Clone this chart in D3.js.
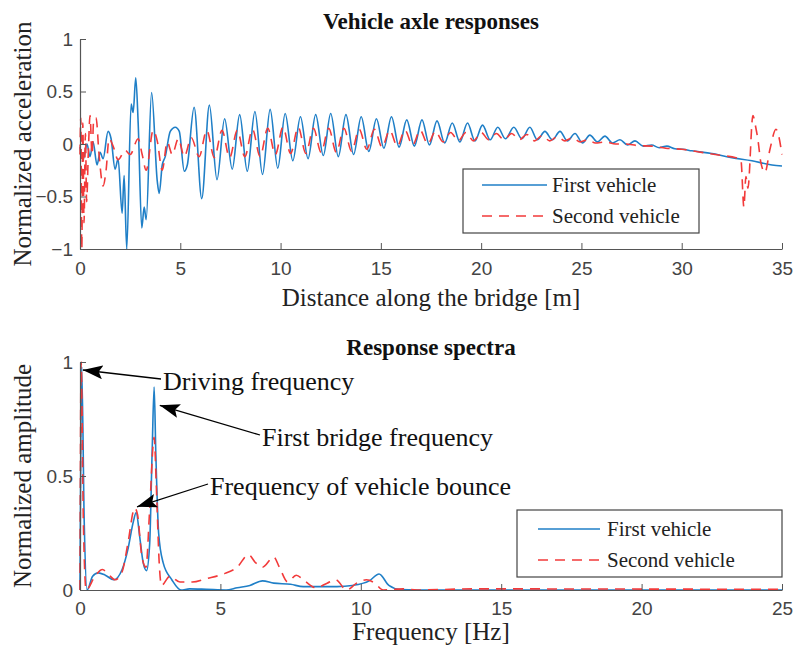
<!DOCTYPE html>
<html>
<head>
<meta charset="utf-8">
<script src="https://cdn.jsdelivr.net/npm/d3@7/dist/d3.min.js"></script>
<style>
  html, body { margin: 0; padding: 0; background: #fff; }
  svg { display: block; }
</style>
</head>
<body>
<script>
// ---- Vehicle axle responses: normalized acceleration vs distance (m) ----
const firstVehicleAccel = [
  [0, -0.03], [0.15, -0.15], [0.35, 0.0], [0.5, -0.12], [0.65, 0.02], [0.85, -0.2],
  [1.0, -0.08], [1.15, -0.14], [1.4, 0.12], [1.55, 0.05], [1.75, -0.24], [1.9, -0.14],
  [2.1, -0.66], [2.2, -0.3], [2.33, -1.0], [2.55, 0.38], [2.65, 0.3], [2.78, 0.63],
  [2.9, 0.2], [3.08, -0.8], [3.2, -0.6], [3.3, -0.72], [3.57, 0.49], [3.85, -0.35],
  [3.95, -0.47], [4.1, -0.2], [4.25, -0.12], [4.5, 0.12], [4.75, 0.16], [4.95, 0.12],
  [5.2, -0.26], [5.35, -0.2], [5.69, 0.35], [6.07, -0.52], [6.45, 0.37], [6.83, -0.34],
  [7.21, 0.24], [7.59, -0.24], [7.96, 0.28], [8.34, -0.26], [8.72, 0.31], [9.10, -0.29],
  [9.48, 0.33], [9.86, -0.23], [10.23, 0.29], [10.61, -0.16], [10.99, 0.26], [11.37, -0.14],
  [11.75, 0.28], [12.13, -0.11], [12.50, 0.29], [12.88, -0.12], [13.26, 0.28], [13.64, -0.10],
  [14.02, 0.26], [14.40, -0.07], [14.78, 0.24], [15.15, -0.04], [15.53, 0.26], [15.91, -0.03],
  [16.29, 0.23], [16.67, -0.02], [17.05, 0.23], [17.42, -0.01], [17.80, 0.22], [18.18, 0.01],
  [18.56, 0.20], [18.94, 0.02], [19.32, 0.20], [19.69, 0.03], [20.07, 0.18], [20.45, 0.04],
  [20.83, 0.16], [21.21, 0.05], [21.63, 0.16], [22.03, 0.05], [22.43, 0.16], [22.80, 0.04],
  [23.18, 0.12], [23.55, 0.04], [23.93, 0.12], [24.30, 0.03], [24.68, 0.10], [25.05, 0.01],
  [25.42, 0.085], [25.80, 0.02], [26.17, 0.075], [26.55, 0.01], [26.92, 0.04], [27.30, -0.01],
  [27.67, 0.03], [28.08, -0.02], [28.50, -0.01], [28.88, -0.035], [29.26, -0.02], [29.66, -0.045],
  [30.06, -0.05], [30.5, -0.065], [31.5, -0.09], [32.5, -0.13], [33.5, -0.16], [34.5, -0.2], [35, -0.21]
];

const secondVehicleAccel = [
  [0, -0.1], [0.04, 0.25], [0.09, -1.0], [0.14, 0.2], [0.2, -0.75], [0.27, 0.1], [0.33, -0.55],
  [0.42, -0.05], [0.5, 0.27], [0.6, -0.1], [0.68, 0.22], [0.8, 0.25], [0.95, -0.1],
  [1.15, -0.4], [1.3, -0.25], [1.45, 0.05], [1.65, -0.02], [1.9, -0.15], [2.25, -0.06],
  [2.5, -0.1], [2.9, 0.05], [3.1, -0.1], [3.3, -0.25], [3.65, 0.13], [3.85, 0.03],
  [4.1, -0.25], [4.35, 0.02], [4.6, -0.1], [4.9, 0.05], [5.2, -0.12], [5.55, 0.06],
  [5.94, -0.12], [6.32, 0.13], [6.70, -0.13], [7.08, 0.13], [7.46, -0.13], [7.84, 0.13],
  [8.22, -0.12], [8.60, 0.14], [8.98, -0.12], [9.36, 0.15], [9.74, -0.1], [10.12, 0.16],
  [10.50, -0.09], [10.88, 0.16], [11.26, -0.09], [11.64, 0.15], [12.02, -0.08], [12.40, 0.15],
  [12.78, -0.08], [13.16, 0.15], [13.54, -0.07], [13.92, 0.14], [14.30, -0.05], [14.68, 0.14],
  [15.06, -0.03], [15.44, 0.13], [15.82, -0.02], [16.20, 0.13], [16.58, -0.01], [16.96, 0.13],
  [17.34, 0.0], [17.72, 0.12], [18.10, 0.02], [18.48, 0.11], [18.86, 0.03], [19.24, 0.11],
  [19.62, 0.03], [20.00, 0.11], [20.38, 0.04], [20.76, 0.10], [21.14, 0.04], [21.52, 0.10],
  [21.90, 0.04], [22.28, 0.09], [22.66, 0.03], [23.04, 0.08], [23.42, 0.03], [23.80, 0.07],
  [24.18, 0.03], [24.56, 0.06], [24.94, 0.02], [25.32, 0.04], [25.70, 0.01], [26.2, 0.02],
  [26.7, 0.0], [27.2, 0.0], [27.8, -0.015], [28.5, -0.02], [29.2, -0.04], [30, -0.05],
  [31, -0.08], [32, -0.11], [32.7, -0.13], [32.95, -0.15], [33.1, -0.6], [33.2, -0.31],
  [33.3, -0.42], [33.55, 0.27], [33.7, 0.15], [33.8, 0.04], [33.95, -0.18], [34.15, -0.27],
  [34.4, -0.05], [34.7, 0.14], [35, -0.1]
];

// ---- Response spectra: normalized amplitude vs frequency (Hz) ----
const firstVehicleSpectrum = [
  [0, 0.0], [0.06, 0.98], [0.15, 0.3], [0.25, 0.0], [0.45, 0.06], [0.65, 0.075],
  [0.9, 0.065], [1.2, 0.045], [1.5, 0.09], [1.7, 0.175], [1.9, 0.3], [2.0, 0.34],
  [2.13, 0.23], [2.25, 0.12], [2.37, 0.085], [2.48, 0.2], [2.57, 0.61], [2.64, 0.89],
  [2.7, 0.6], [2.8, 0.25], [2.96, 0.12], [3.27, 0.045], [3.6, 0.0], [3.9, 0.005],
  [4.5, 0.003], [5.2, 0.0], [5.6, 0.01], [6.05, 0.02], [6.5, 0.04], [6.9, 0.03],
  [7.5, 0.025], [7.95, 0.015], [8.5, 0.015], [9.15, 0.015], [9.7, 0.02], [10.3, 0.04],
  [10.65, 0.07], [11.0, 0.02], [11.4, 0.002], [12, 0.0], [18, 0.0], [25, 0.0]
];

const secondVehicleSpectrum = [
  [0, 0.0], [0.04, 1.0], [0.12, 0.3], [0.22, 0.0], [0.53, 0.06], [0.8, 0.09],
  [1.0, 0.07], [1.25, 0.045], [1.5, 0.08], [1.7, 0.2], [1.95, 0.36], [2.05, 0.33],
  [2.2, 0.15], [2.35, 0.1], [2.48, 0.35], [2.64, 0.67], [2.72, 0.45], [2.82, 0.12],
  [2.9, 0.02], [3.2, 0.06], [3.56, 0.035], [4.0, 0.035], [4.5, 0.05], [5.1, 0.07],
  [5.6, 0.1], [6.0, 0.155], [6.25, 0.12], [6.5, 0.1], [6.9, 0.145], [7.1, 0.1],
  [7.4, 0.035], [7.7, 0.065], [8.0, 0.04], [8.4, 0.01], [8.8, 0.03], [9.1, 0.045],
  [9.5, 0.0], [9.85, 0.03], [10.2, 0.045], [10.5, 0.03], [10.8, 0.0], [11.5, 0.005],
  [12, 0.0], [14, 0.005], [20, 0.004], [25, 0.003]
];

const distanceTicks = [0, 5, 10, 15, 20, 25, 30, 35];
const accelTicks = [-1, -0.5, 0, 0.5, 1];
const freqTicks = [0, 5, 10, 15, 20, 25];
const amplitudeTicks = [0, 0.5, 1];
const seriesNames = ["First vehicle", "Second vehicle"];

const annotations = [
  { text: "Driving frequency", at: [0.1, 0.965] },
  { text: "First bridge frequency", at: [2.84, 0.81] },
  { text: "Frequency of vehicle bounce", at: [2.03, 0.365] }
];

// ---- drawing ----
const W = 794, H = 657;
const BLUE = "#1f7fc7", RED = "#f23a3a", AXIS = "#555";
const SERIF = "'Liberation Serif', 'Times New Roman', serif";
const SANS = "'Liberation Sans', Arial, sans-serif";
const DASH = "10,7";

const svg = d3.select("body").append("svg").attr("width", W).attr("height", H);

const defs = svg.append("defs");
defs.append("marker")
  .attr("id", "arrowhead").attr("viewBox", "0 0 20 14")
  .attr("refX", 20).attr("refY", 7)
  .attr("markerWidth", 20).attr("markerHeight", 14)
  .attr("markerUnits", "userSpaceOnUse").attr("orient", "auto")
  .append("path").attr("d", "M20,7 L0,0 L4,7 L0,14 Z").attr("fill", "#000");

function serifText(sel, size) {
  return sel.style("font-family", SERIF).attr("font-size", size).attr("fill", "#222");
}

function panel(cfg) {
  const g = svg.append("g");
  const x = d3.scaleLinear().domain(cfg.xDomain).range([80, 782]);
  const y = d3.scaleLinear().domain(cfg.yDomain).range(cfg.yRange);

  const line = d3.line().x(d => x(d[0])).y(d => y(d[1])).curve(d3.curveMonotoneX);

  g.append("path").datum(cfg.series[0])
    .attr("d", line).attr("fill", "none")
    .attr("stroke", BLUE).attr("stroke-width", 1.6).attr("stroke-linejoin", "round");
  g.append("path").datum(cfg.series[1])
    .attr("d", line).attr("fill", "none")
    .attr("stroke", RED).attr("stroke-width", 1.6).attr("stroke-dasharray", DASH);

  const xAxis = g.append("g").attr("transform", `translate(0,${cfg.yRange[0]})`)
    .call(d3.axisBottom(x).tickValues(cfg.xTicks).tickSize(-6).tickSizeOuter(0).tickPadding(cfg.xPad));
  const yAxis = g.append("g").attr("transform", "translate(80,0)")
    .call(d3.axisLeft(y).tickValues(cfg.yTicks).tickSize(-6).tickSizeOuter(0).tickPadding(7)
      .tickFormat(d3.format("")));
  [xAxis, yAxis].forEach(a => {
    a.select(".domain").attr("stroke", AXIS).attr("stroke-width", 1.2);
    a.selectAll(".tick line").attr("stroke", AXIS);
    a.selectAll("text").style("font-family", SANS).attr("font-size", 19).attr("fill", "#444");
  });

  serifText(g.append("text"), cfg.titleSize).attr("x", 431).attr("y", cfg.titleY)
    .attr("text-anchor", "middle").attr("font-weight", "bold").attr("fill", "#111").text(cfg.title);
  serifText(g.append("text"), 25).attr("x", 431).attr("y", cfg.xLabelY)
    .attr("text-anchor", "middle").text(cfg.xLabel);
  const yc = (cfg.yRange[0] + cfg.yRange[1]) / 2;
  serifText(g.append("text"), 25).attr("transform", `translate(31,${yc}) rotate(-90)`)
    .attr("text-anchor", "middle").text(cfg.yLabel);

  // legend
  const L = cfg.legend;
  const lg = g.append("g");
  lg.append("rect").attr("x", L.x).attr("y", L.y).attr("width", L.w).attr("height", L.h)
    .attr("fill", "#fff").attr("stroke", "#444").attr("stroke-width", 1.2);
  seriesNames.forEach((name, i) => {
    const yy = L.y + L.row0 + i * L.rowGap;
    lg.append("line").attr("x1", L.x + L.l0).attr("x2", L.x + L.l1)
      .attr("y1", yy).attr("y2", yy)
      .attr("stroke", i === 0 ? BLUE : RED).attr("stroke-width", 1.6)
      .attr("stroke-dasharray", i === 0 ? null : DASH);
    serifText(lg.append("text"), 21).attr("x", L.x + L.tx).attr("y", yy).attr("dy", "0.33em")
      .text(name);
  });
  return { g, x, y };
}

panel({
  series: [firstVehicleAccel, secondVehicleAccel],
  xDomain: [0, 35], yDomain: [-1, 1], yRange: [249, 39],
  xTicks: distanceTicks, yTicks: accelTicks, xPad: 13,
  title: "Vehicle axle responses", titleY: 29, titleSize: 23,
  xLabel: "Distance along the bridge [m]", xLabelY: 306,
  yLabel: "Normalized acceleration",
  legend: { x: 463, y: 169, w: 236, h: 64, row0: 16, rowGap: 31, l0: 19, l1: 84, tx: 89 }
});

const spec = panel({
  series: [firstVehicleSpectrum, secondVehicleSpectrum],
  xDomain: [0, 25], yDomain: [0, 1], yRange: [590, 362],
  xTicks: freqTicks, yTicks: amplitudeTicks, xPad: 12,
  title: "Response spectra", titleY: 355, titleSize: 23,
  xLabel: "Frequency [Hz]", xLabelY: 640,
  yLabel: "Normalized amplitude",
  legend: { x: 517, y: 510, w: 265, h: 67, row0: 19, rowGap: 31, l0: 21, l1: 83, tx: 90 }
});

// arrows with labels in the spectrum panel
const labelPos = [[163, 381], [262, 437], [210, 486]];
annotations.forEach((a, i) => {
  const [tx, ty] = labelPos[i];
  spec.g.append("line")
    .attr("x1", tx - 2).attr("y1", ty - 2)
    .attr("x2", spec.x(a.at[0])).attr("y2", spec.y(a.at[1]))
    .attr("stroke", "#000").attr("stroke-width", 1.3)
    .attr("marker-end", "url(#arrowhead)");
  serifText(spec.g.append("text"), 26).attr("x", tx).attr("y", ty).attr("dy", "0.33em")
    .attr("fill", "#111").text(a.text);
});
</script>
</body>
</html>
